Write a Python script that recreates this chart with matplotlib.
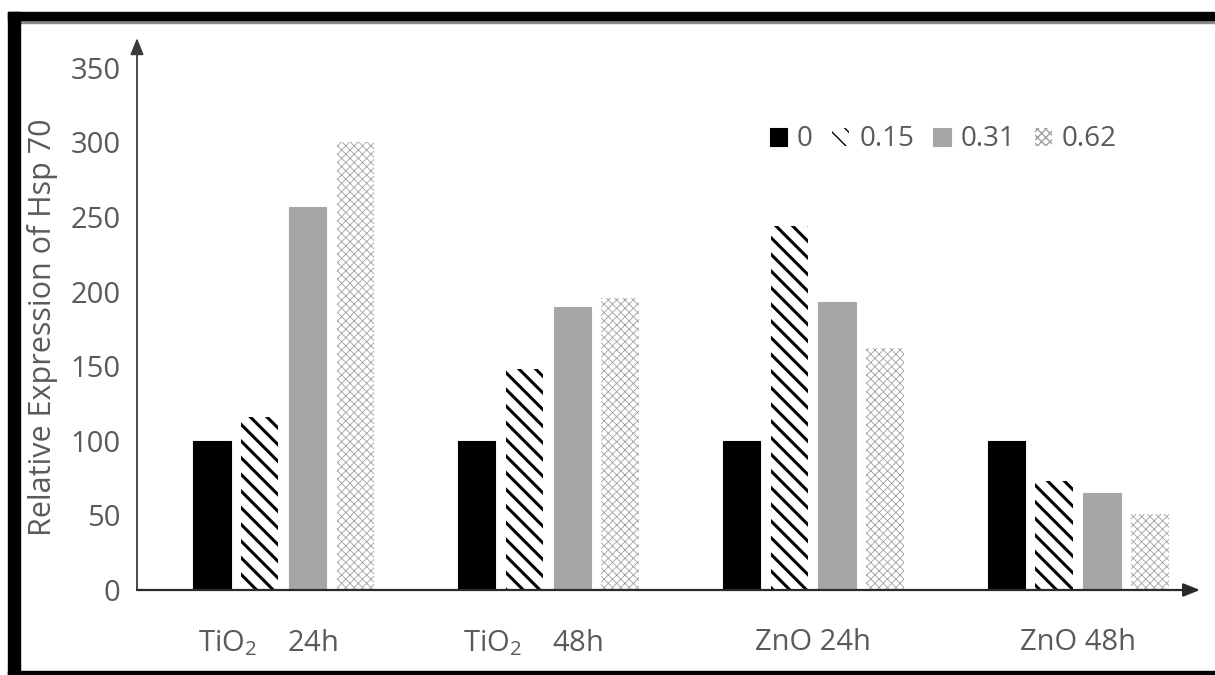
import matplotlib
matplotlib.use("Agg")
import matplotlib.pyplot as plt
from matplotlib.patches import Rectangle
from matplotlib.transforms import ScaledTranslation
import numpy as np

# Data
groups = ["TiO$_2$    24h", "TiO$_2$    48h", "ZnO 24h", "ZnO 48h"]
doses = ["0", "0.15", "0.31", "0.62"]
dose_0 = [100, 100, 100, 100]
dose_015 = [116, 148, 244, 73]
dose_031 = [257, 190, 193, 65]
dose_062 = [300, 196, 162, 51]
yticks = [0, 50, 100, 150, 200, 250, 300, 350]

plt.rcParams["font.family"] = ["Open Sans", "DejaVu Sans"]
plt.rcParams["mathtext.fontset"] = "custom"
plt.rcParams["mathtext.rm"] = "Open Sans"
plt.rcParams["mathtext.it"] = "Open Sans"

txt = "#5a5a5a"

fig = plt.figure(figsize=(12.15, 6.75), dpi=100)
ax = fig.add_axes([137 / 1215, 1 - 590 / 675, (1200 - 137) / 1215, (590 - 38) / 675])

x = np.arange(len(groups))
width = 0.143
pitch = 0.181
offsets = (np.arange(4) - 1.5) * pitch

styles = [
    dict(color="black", edgecolor="black", hatch=None, hlw=1.0),
    dict(color="white", edgecolor="black", hatch="\\\\", hlw=2.2),
    dict(color="#a6a6a6", edgecolor="#a6a6a6", hatch=None, hlw=1.0),
    dict(color="white", edgecolor="#a0a0a0", hatch="xxxx", hlw=0.6),
]
series = [dose_0, dose_015, dose_031, dose_062]

for i, (vals, st, lab) in enumerate(zip(series, styles, doses)):
    with plt.rc_context({"hatch.linewidth": st["hlw"], "hatch.color": st["edgecolor"]}):
        bars = ax.bar(x + offsets[i], vals, width, color=st["color"],
                      edgecolor=st["edgecolor"] if st["hatch"] else st["color"],
                      linewidth=0 if st["hatch"] else 0.8,
                      hatch=st["hatch"], label=lab)
        for b in bars:
            if hasattr(b, "set_hatch_linewidth"):
                b.set_hatch_linewidth(st["hlw"])

ax.set_xlim(-0.553, 3.459)
ax.set_ylim(0, 370)
ax.set_yticks(yticks)
ax.set_yticklabels([str(v) for v in yticks])
ax.set_xticks(x)
ax.set_xticklabels(groups)
ax.tick_params(axis="both", length=0, labelsize=21, colors=txt)
ax.tick_params(axis="x", pad=27)
ax.tick_params(axis="y", pad=12)
shift = ScaledTranslation(-16 / 100, 0, fig.dpi_scale_trans)
for k, lbl in enumerate(ax.get_xticklabels()):
    lbl.set_color(txt)
    if k < 2:
        lbl.set_transform(lbl.get_transform() + shift)

for s in ["top", "right", "left", "bottom"]:
    ax.spines[s].set_visible(False)

# axis lines with arrowheads
ax.annotate("", xy=(0, 1.0), xytext=(0, 0), xycoords="axes fraction",
            arrowprops=dict(arrowstyle="-|>,head_length=1.0,head_width=0.4",
                            color="#3a3a3a", lw=1.3, shrinkA=0, shrinkB=0))
ax.annotate("", xy=(1.0, 0), xytext=(0, 0), xycoords="axes fraction",
            arrowprops=dict(arrowstyle="-|>,head_length=1.0,head_width=0.4",
                            color="#2a2a2a", lw=1.6, shrinkA=0, shrinkB=0))

ax.set_ylabel("Relative Expression of Hsp 70", fontsize=22, color=txt)
ax.yaxis.set_label_coords(-0.074, 0.476)

leg = ax.legend(ncol=4, frameon=False, fontsize=20, loc="upper left",
                bbox_to_anchor=(0.585, 0.862), handlelength=0.62, handleheight=0.62,
                handletextpad=0.35, columnspacing=0.7, borderaxespad=0)
for t in leg.get_texts():
    t.set_color(txt)

# page frame
frame_kw = dict(transform=fig.transFigure, color="black", zorder=10, clip_on=False)
fig.patches.append(Rectangle((8 / 1215, 0), 12 / 1215, (675 - 12) / 675, **frame_kw))
fig.patches.append(Rectangle((8 / 1215, (675 - 20) / 675), (1215 - 8) / 1215, 8 / 675, **frame_kw))
fig.patches.append(Rectangle((8 / 1215, 0), (1215 - 8) / 1215, 4 / 675, **frame_kw))
fig.patches.append(Rectangle((20 / 1215, (675 - 23) / 675), (1215 - 20) / 1215, 2 / 675,
                             transform=fig.transFigure, color="#8a8a8a", zorder=9))

fig.savefig("out.png", dpi=100)
